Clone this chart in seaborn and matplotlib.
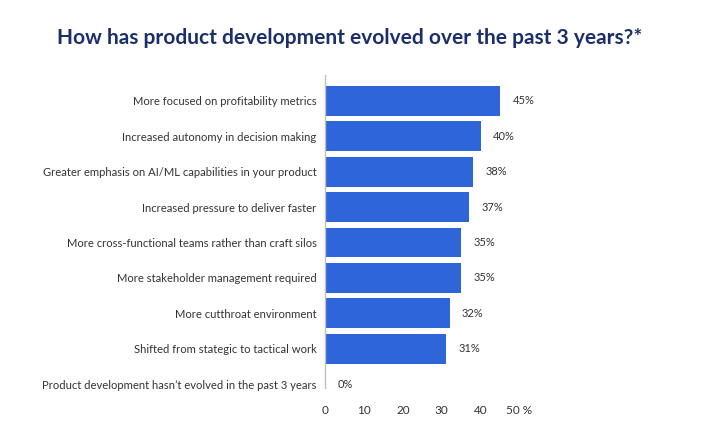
import matplotlib
matplotlib.use("Agg")
import matplotlib.pyplot as plt
import seaborn as sns
import pandas as pd

categories = [
    "More focused on profitability metrics",
    "Increased autonomy in decision making",
    "Greater emphasis on AI/ML capabilities in your product",
    "Increased pressure to deliver faster",
    "More cross-functional teams rather than craft silos",
    "More stakeholder management required",
    "More cutthroat environment",
    "Shifted from stategic to tactical work",
    "Product development hasn\u2019t evolved in the past 3 years",
]
values = [45, 40, 38, 37, 35, 35, 32, 31, 0]
x_ticks = [0, 10, 20, 30, 40, 50]
x_tick_labels = ["0", "10", "20", "30", "40", "50 %"]
title = "How has product development evolved over the past 3 years?*"

sns.set_theme(style="white")
plt.rcParams["font.family"] = ["Lato", "DejaVu Sans"]

df = pd.DataFrame({"category": categories, "value": values})

fig = plt.figure(figsize=(7.15, 4.26), dpi=100)
ax = fig.add_axes([325 / 715, 1 - 388 / 426, 214 / 715, 313 / 426])

sns.barplot(data=df, x="value", y="category", orient="h", color="#2E66D9",
            saturation=1, width=0.845, linewidth=0, ax=ax)

ax.set_xlim(0, 55)
ax.set_ylim(8.1, -0.72)
ax.set_xticks(x_ticks)
ax.set_xticklabels(x_tick_labels)
ax.set_xlabel("")
ax.set_ylabel("")
ax.tick_params(axis="x", length=0, pad=12, labelsize=8.5, labelcolor="#333333")
ax.tick_params(axis="y", length=0, pad=6, labelsize=8.15, labelcolor="#333333")
for s in ["top", "right", "bottom"]:
    ax.spines[s].set_visible(False)
ax.spines["left"].set_color("#c0c0c0")
ax.spines["left"].set_linewidth(1)

for i, v in enumerate(values):
    ax.annotate(f"{v}%", xy=(v, i), xytext=(9, 0), textcoords="offset points",
                ha="left", va="center", fontsize=8, color="#333333")

fig.text(57 / 715, 1 - 38 / 426, title, ha="left", va="center",
         fontsize=15, fontweight="bold", color="#1B2F6B")

fig.savefig("out.png", dpi=100, facecolor="white")
